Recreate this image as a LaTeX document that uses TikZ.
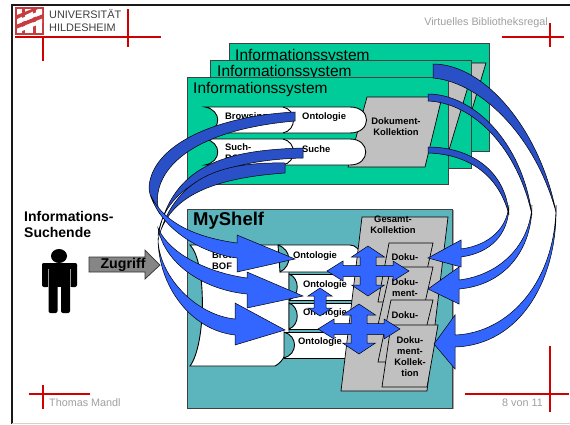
\documentclass[tikz,border=0pt]{standalone}
\usepackage{fontspec}
\setmainfont{Liberation Sans}
\definecolor{hired}{HTML}{D00000}
\definecolor{logored}{HTML}{C83C40}
\definecolor{panelgreen}{HTML}{00CC99}
\definecolor{panelteal}{HTML}{5CB5BC}
\definecolor{docgrey}{HTML}{C0C0C0}
\definecolor{footgrey}{HTML}{A0A0A0}
\definecolor{ribdark}{HTML}{2A50C8}
\definecolor{riblight}{HTML}{3366FF}
\tikzset{
  x=1pt,y=-1pt,
  frameline/.style={line width=2pt,black!90},
  regmark/.style={line width=1.5pt,hired},
  panel/.style={draw=black!75,line width=.8pt,fill=panelgreen},
  shelf/.style={draw=black!75,line width=.8pt,fill=panelteal},
  panelshadow/.style={draw=gray!70,line width=1.2pt},
  docshape/.style={draw=black,line width=.7pt,fill=docgrey},
  capsule/.style={draw=black,line width=.9pt,fill=white},
  crescent/.style={draw=black,line width=.9pt,fill=panelteal},
  bowline/.style={draw=black,line width=.9pt},
  ribd/.style={draw=black,line width=.5pt,fill=ribdark},
  ribl/.style={draw=black,line width=.5pt,fill=riblight},
  lab/.style={inner sep=0pt,align=center,font=\fontsize{9.4}{11}\selectfont\bfseries},
  sys/.style={inner sep=0pt,anchor=west,font=\fontsize{15.5}{17}\selectfont},
  foot/.style={inner sep=0pt,text=footgrey,font=\fontsize{10.8}{12}\selectfont},
  crossarrow/.pic={\draw[ribl] (-41,0)--(-25,-10)--(-25,-5.5)--(-8,-5.5)--(-8,-14)--(-16.5,-14)--(0,-25)--(16.5,-14)--(8,-14)--(8,-5.5)--(25,-5.5)--(25,-10)--(41,0)--(25,10)--(25,5.5)--(8,5.5)--(8,14)--(16.5,14)--(0,25)--(-16.5,14)--(-8,14)--(-8,5.5)--(-25,5.5)--(-25,10)--cycle;},
}
\begin{document}
\begin{tikzpicture}
\useasboundingbox (0,0) rectangle (570,424);
\fill[white] (0,0) rectangle (570,424);
% slide frame
\draw[frameline] (570,5) -- (11.5,5) -- (11.5,424);
\draw[gray!35,line width=1pt] (12,423) -- (570,423);
% logo
\fill[logored] (15,7) rectangle (44,35);
\fill[white] (17,9) rectangle (42,33);
\fill[logored] (22,9) rectangle (25,33);
\fill[logored] (33,9) rectangle (36,33);
\fill[white] (17,24)--(17,20)--(42,10)--(42,14)--cycle;
\fill[white] (17,33)--(17,29)--(42,19)--(42,23)--cycle;
\fill[logored] (17,28.5)--(17,24.5)--(42,14.5)--(42,18.5)--cycle;
\fill[logored] (17,19)--(17,15)--(32,9)--(38,9)--cycle;
\node[inner sep=0pt,anchor=west,align=left,text=black!75,font=\fontsize{10.9}{13}\selectfont] (uni) at (49,20.5) {UNIVERSITÄT\\HILDESHEIM};
% registration marks
\draw[regmark] (15,37) -- (161,37) (128,9) -- (128,47) (43,37) -- (43,61);
\draw[regmark] (502,37) -- (564,37) (550,23) -- (550,47);
\draw[regmark] (29,394) -- (90,394) (43,385) -- (43,409);
\draw[regmark] (465,394) -- (569,394) (550,346) -- (550,412);
\node[foot,anchor=east] (title) at (548,23) {Virtuelles Bibliotheksregal};
\node[foot,anchor=west] (author) at (49,403) {Thomas Mandl};
\node[foot,anchor=east] (page) at (543,403) {8 von 11};
% stacked information systems
\draw[panel] (229,43) rectangle (489.5,151);
\node[sys] (s3) at (235,56) {Informationssystem};
\draw[docshape] (409,63)--(486,63)--(465,133)--(390,133)--cycle;
\draw[panel] (210,60) rectangle (471,168);
\node[sys] (s2) at (217,72.5) {Informationssystem};
\draw[docshape] (390,80)--(470,80)--(449,150)--(370,150)--cycle;
\draw[panelshadow] (188,184.5) -- (448,184.5);
\draw[panel] (187,77) rectangle (448,184);
\node[sys] (s1) at (193,89) {Informationssystem};
\draw[docshape] (367,97)--(442,97)--(425,167)--(348,167)--cycle;
\node[lab] (dk) at (396,127) {Dokument-\\Kollektion};
% capsules
\draw[capsule] (205,107) .. controls (222,110) and (222,130) .. (205,133) -- (350,133) .. controls (372,133) and (372,107) .. (350,107) -- cycle;
\draw[bowline] (283,107) .. controls (297,110) and (297,130) .. (283,133);
\draw[capsule] (205,139) .. controls (222,142) and (222,162) .. (205,165) -- (350,165) .. controls (371,165) and (371,139) .. (350,139) -- cycle;
\draw[bowline] (283,139) .. controls (297,142) and (297,162) .. (283,165);
\node[lab,anchor=north west,align=left] (b1) at (225,112) {Browsing-\\BOF};
\node[lab,anchor=north west,align=left] (b2) at (225,143) {Such-\\BOF};
\node[lab,anchor=west] (o1) at (302,117) {Ontologie};
\node[lab,anchor=west] (o2) at (302,149) {Suche};
% MyShelf
\draw[panelshadow] (187.5,408.5) -- (453,408.5) -- (453,210);
\draw[shelf] (187,209) rectangle (452,408);
\node[inner sep=0pt,anchor=west,font=\fontsize{18.5}{20}\selectfont\bfseries] (my) at (193,220.5) {MyShelf};
% big BOF sheet
\draw[capsule] (190,245) .. controls (207,262) and (206,345) .. (190,366) -- (275,366) .. controls (283,362) and (288,352) .. (289,340) -- (289,272) -- (281,245) -- cycle;
\node[lab,anchor=north west,align=left] (bof) at (212,251) {Browsing-\\BOF};
% rows
\draw[capsule] (278,245) -- (350,245) .. controls (356,245) and (360,250) .. (362,258) -- (358,272) -- (280,272);
\draw[crescent] (278,245) .. controls (292,250) and (292,266) .. (280,272) -- cycle;
\draw[capsule] (289,274) -- (360,274) -- (360,300) -- (289,300);
\draw[crescent] (289,274) .. controls (300,278) and (300,296) .. (289,300) -- cycle;
\draw[capsule] (289,303) -- (360,303) -- (360,329) -- (289,329);
\draw[crescent] (289,303) .. controls (300,307) and (300,325) .. (289,329) -- cycle;
\draw[capsule] (284,332) -- (360,332) -- (360,358) -- (284,358);
\draw[crescent] (284,332) .. controls (298,336) and (298,354) .. (284,358) -- cycle;
\node[lab] (r1) at (315,256) {Ontologie};
\node[lab] (r2) at (325,285) {Ontologie};
\node[lab] (r3) at (325,313) {Ontologie};
\node[lab] (r4) at (320,342) {Ontologie};
% collections
\draw[docshape] (362,217)--(448,217)--(427,391)--(341,391)--cycle;
\node[lab,anchor=north] (ges) at (393,216) {Gesamt-\\Kollektion};
\draw[docshape] (389,243)--(433,243)--(420,302)--(378,302)--cycle;
\node[lab] (d1a) at (405,257) {Doku-};
\draw[docshape] (391,267)--(433,267)--(420,325)--(378,325)--cycle;
\node[lab] (d2a) at (405,282) {Doku-};
\node[lab] (d2b) at (405,293) {ment-};
\draw[docshape] (391,300)--(433,300)--(418,362)--(378,362)--cycle;
\node[lab] (d3a) at (405,315) {Doku-};
\draw[docshape] (391,325)--(438,325)--(427,387)--(382,387)--cycle;
\node[lab] (d4) at (410,356.5) {Doku-\\ment-\\Kollek-\\tion};
% user
\node[inner sep=0pt,anchor=north west,align=left,font=\fontsize{14}{16}\selectfont\bfseries] (user) at (24,211) {Informations-\\Suchende};
\fill[black] (59,256) circle[x radius=8,y radius=7];
\fill[black,rounded corners=2pt] (42,263) rectangle (77,268);
\fill[black,rounded corners=2pt] (42,263) rectangle (49,287);
\fill[black,rounded corners=2pt] (70,263) rectangle (77,287);
\fill[black] (47,265) rectangle (72,287);
\fill[black,rounded corners=2pt] (48.5,275) rectangle (57.5,313);
\fill[black,rounded corners=2pt] (61,275) rectangle (70,313);
\fill[black] (48.5,275) rectangle (70,287);
\draw[gray!80,line width=.7pt] (48.5,269) -- (48.5,287) (70.5,269) -- (70.5,287);
\draw[black!80,fill=gray!95,line width=.7pt] (89,257)--(145,257)--(145,250)--(160,265)--(145,279)--(145,272)--(89,272)--cycle;
\node[inner sep=0pt,font=\fontsize{14.2}{16}\selectfont\bfseries] (zug) at (123,265) {Zugriff};
% left ribbons, upper parts
\draw[ribd] (303,148) .. controls (225,150) and (172,165) .. (158,236) .. controls (163,190) and (215,160) .. (303,158) -- cycle;
\draw[ribd] (285,163) .. controls (230,162) and (175,172) .. (158,240) .. controls (168,195) and (215,178) .. (285,173) -- cycle;
\draw[ribd] (295,112) .. controls (215,116) and (152,145) .. (149,187) .. controls (149,197) and (155,205) .. (160,214) .. controls (149,185) and (170,132) .. (295,121) -- cycle;
% left ribbons, lower parts with heads
\draw[ribl] (151,196) .. controls (165,225) and (200,238) .. (237,243) -- (237,235) -- (295,259) -- (237,272) -- (237,258) .. controls (195,252) and (160,225) .. (151,196) -- cycle;
\draw[ribl] (158,228) .. controls (170,255) and (210,273) .. (247,278) -- (247,272) -- (303,296) -- (247,308) -- (247,294) .. controls (205,290) and (165,265) .. (158,228) -- cycle;
\draw[ribl] (158,238) .. controls (158,275) and (195,315) .. (235,319) -- (235,303) -- (285,330) -- (235,345) -- (235,335) .. controls (190,330) and (158,285) .. (158,238) -- cycle;
% right ribbons
\draw[ribd] (433,64) .. controls (485,64) and (540,130) .. (556,212) .. controls (535,135) and (480,82) .. (433,78) -- cycle;
\draw[ribd] (428,94) .. controls (472,94) and (522,140) .. (532,215) .. controls (518,150) and (475,103) .. (428,101) -- cycle;
\draw[ribd] (428,147) .. controls (470,147) and (506,170) .. (509,215) .. controls (498,172) and (465,154) .. (428,153) -- cycle;
\draw[ribl] (556,205) .. controls (556,280) and (510,333) .. (455,335) -- (455,315) -- (434,344) -- (455,369) -- (455,347) .. controls (520,345) and (558,280) .. (556,205) -- cycle;
\draw[ribl] (532,205) .. controls (530,245) and (500,275) .. (459,280) -- (459,267) -- (428,289) -- (459,304) -- (459,289) .. controls (505,285) and (532,250) .. (532,205) -- cycle;
\draw[ribl] (509,205) .. controls (507,228) and (490,245) .. (461,249) -- (461,240) -- (428,258) -- (461,267) -- (461,257) .. controls (490,253) and (509,235) .. (509,205) -- cycle;
% double arrows
\pic at (368,271) {crossarrow};
\pic at (359,329) {crossarrow};
\draw[ribl] (320,288)--(332,296)--(326,296)--(326,308)--(332,308)--(320,316)--(308,308)--(314,308)--(314,296)--(308,296)--cycle;
\end{tikzpicture}
\end{document}
